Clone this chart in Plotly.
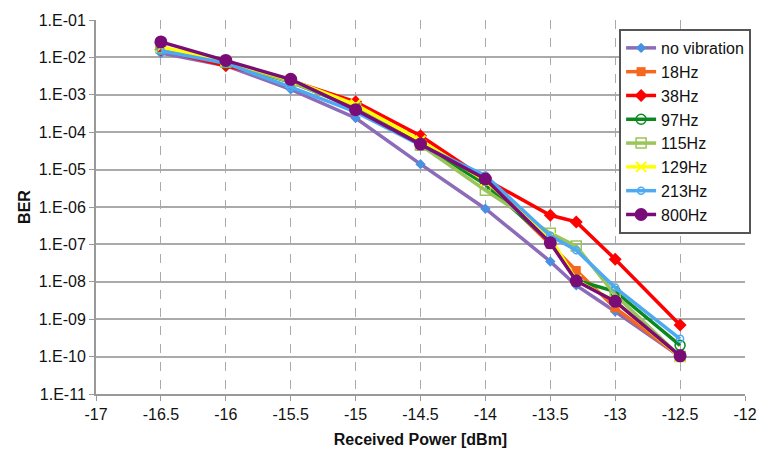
import plotly.graph_objects as go

# Received optical power [dBm]
power = [-16.5, -16, -15.5, -15, -14.5, -14, -13.5, -13.3, -13, -12.5]

# Measured BER for each vibration frequency
ber_none = [1.3e-2, 6.0e-3, 1.4e-3, 2.4e-4, 1.4e-5, 9.0e-7, 3.5e-8, 8.0e-9, 1.6e-9, 1.0e-10]
ber_18 = [1.8e-2, 8.0e-3, 2.2e-3, 5.0e-4, 5.0e-5, 5.0e-6, 1.0e-7, 2.0e-8, 2.0e-9, 1.0e-10]
ber_38 = [1.6e-2, 6.0e-3, 2.4e-3, 6.5e-4, 8.0e-5, 5.5e-6, 6.0e-7, 4.0e-7, 4.0e-8, 7.0e-10]
ber_97 = [1.7e-2, 7.0e-3, 2.2e-3, 4.5e-4, 5.0e-5, 4.0e-6, 1.2e-7, 1.1e-8, 5.5e-9, 2.0e-10]
ber_115 = [1.8e-2, 7.5e-3, 2.2e-3, 4.5e-4, 4.5e-5, 2.8e-6, 2.0e-7, 9.0e-8, 4.5e-9, 1.0e-10]
ber_129 = [1.9e-2, 8.0e-3, 2.5e-3, 5.5e-4, 6.0e-5, 5.0e-6, 1.5e-7, 1.1e-8, 3.0e-9, 1.0e-10]
ber_213 = [1.5e-2, 7.0e-3, 1.6e-3, 3.5e-4, 4.5e-5, 7.0e-6, 1.7e-7, 7.0e-8, 7.0e-9, 3.0e-10]
ber_800 = [2.6e-2, 8.3e-3, 2.6e-3, 4.0e-4, 4.8e-5, 5.6e-6, 1.1e-7, 1.05e-8, 3.0e-9, 1.05e-10]

x_ticks = [-17, -16.5, -16, -15.5, -15, -14.5, -14, -13.5, -13, -12.5, -12]
y_tickvals = [1e-1, 1e-2, 1e-3, 1e-4, 1e-5, 1e-6, 1e-7, 1e-8, 1e-9, 1e-10, 1e-11]
y_ticktext = ["1.E-01", "1.E-02", "1.E-03", "1.E-04", "1.E-05", "1.E-06",
              "1.E-07", "1.E-08", "1.E-09", "1.E-10", "1.E-11"]

series = [
    ("no vibration", ber_none, "#8C6BB8", dict(symbol="diamond", size=8, color="#4A90E2")),
    ("18Hz", ber_18, "#F5661E", dict(symbol="square", size=9, color="#F5661E")),
    ("38Hz", ber_38, "#FF0000", dict(symbol="diamond", size=10, color="#FF0000")),
    ("97Hz", ber_97, "#0A8A1E", dict(symbol="circle-open", size=10, color="#0A8A1E", line=dict(width=1.5))),
    ("115Hz", ber_115, "#9BC45A", dict(symbol="square-open", size=10, color="#9BC45A", line=dict(width=1.5))),
    ("129Hz", ber_129, "#FFFF00", dict(symbol="x-thin", size=10, color="#FFFF00", line=dict(width=2, color="#FFFF00"))),
    ("213Hz", ber_213, "#4DAAF2", dict(symbol="circle-open", size=7, color="#4DAAF2", line=dict(width=1.5))),
    ("800Hz", ber_800, "#7A0C78", dict(symbol="circle", size=13, color="#7A0C78")),
]

fig = go.Figure()
for name, vals, color, marker in series:
    fig.add_trace(go.Scatter(
        x=power, y=vals, name=name, mode="lines+markers",
        line=dict(color=color, width=3.5), marker=marker,
    ))

fig.update_layout(
    width=769, height=462,
    margin=dict(l=96, r=15, t=14, b=68),
    paper_bgcolor="white", plot_bgcolor="white",
    font=dict(family="Liberation Sans, Arial, sans-serif", size=16, color="#111111"),
    showlegend=True,
    legend=dict(
        x=0.806, y=0.976, xanchor="left", yanchor="top",
        bgcolor="white", bordercolor="#555555", borderwidth=2,
        font=dict(size=16), tracegroupgap=0, itemwidth=30,
    ),
)

fig.update_xaxes(
    range=[-17, -12], tickvals=x_ticks, ticktext=[str(t) for t in x_ticks],
    showgrid=True, gridcolor="#AAAAAA", griddash="dash", gridwidth=1,
    zeroline=False, showline=True, linecolor="#999999", linewidth=2,
    ticks="outside", ticklen=5, tickcolor="#999999",
    tickfont=dict(size=16),
    title=dict(text="<b>Received Power [dBm]</b>", font=dict(size=16), standoff=12),
)
fig.update_yaxes(
    type="log", range=[-11, -1], tickvals=y_tickvals, ticktext=y_ticktext,
    showgrid=True, gridcolor="#AAAAAA", gridwidth=2,
    zeroline=False, showline=True, linecolor="#999999", linewidth=2,
    ticks="outside", ticklen=5, tickcolor="#999999",
    tickfont=dict(size=16),
    title=dict(text="<b>BER</b>", font=dict(size=16), standoff=4),
)

fig.write_html("out.html")
